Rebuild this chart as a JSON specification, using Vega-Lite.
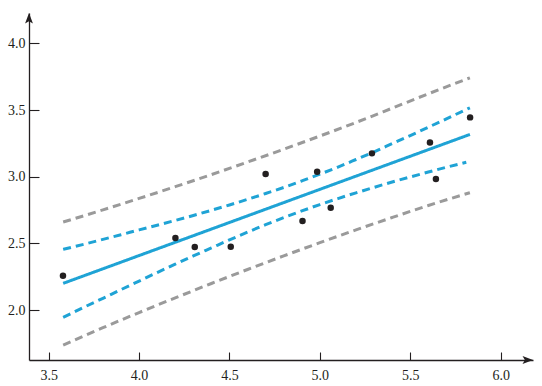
{
  "$schema": "https://vega.github.io/schema/vega-lite/v6.json",
  "width": 504,
  "height": 347,
  "autosize": "none",
  "padding": {"left": 29, "top": 13, "right": 9, "bottom": 26},
  "config": {
    "view": {"stroke": null},
    "font": "Liberation Serif",
    "axis": {
      "domainColor": "#231f20",
      "domainWidth": 1.3,
      "tickColor": "#231f20",
      "tickWidth": 1.1,
      "labelFont": "Liberation Serif",
      "labelFontSize": 14,
      "labelColor": "#231f20",
      "grid": false,
      "title": null
    }
  },
  "datasets": {
    "curves": [
      {"x": 3.58, "y": 2.200, "curve": "fit", "kind": "fit"},
      {"x": 5.83, "y": 3.317, "curve": "fit", "kind": "fit"},
      {"x": 3.58, "y": 2.455, "curve": "conf_up", "kind": "conf"},
      {"x": 3.7, "y": 2.495, "curve": "conf_up", "kind": "conf"},
      {"x": 3.8, "y": 2.530, "curve": "conf_up", "kind": "conf"},
      {"x": 3.9, "y": 2.565, "curve": "conf_up", "kind": "conf"},
      {"x": 4.0, "y": 2.601, "curve": "conf_up", "kind": "conf"},
      {"x": 4.1, "y": 2.636, "curve": "conf_up", "kind": "conf"},
      {"x": 4.2, "y": 2.672, "curve": "conf_up", "kind": "conf"},
      {"x": 4.3, "y": 2.709, "curve": "conf_up", "kind": "conf"},
      {"x": 4.4, "y": 2.748, "curve": "conf_up", "kind": "conf"},
      {"x": 4.5, "y": 2.788, "curve": "conf_up", "kind": "conf"},
      {"x": 4.6, "y": 2.830, "curve": "conf_up", "kind": "conf"},
      {"x": 4.7, "y": 2.874, "curve": "conf_up", "kind": "conf"},
      {"x": 4.8, "y": 2.919, "curve": "conf_up", "kind": "conf"},
      {"x": 4.9, "y": 2.968, "curve": "conf_up", "kind": "conf"},
      {"x": 5.0, "y": 3.019, "curve": "conf_up", "kind": "conf"},
      {"x": 5.1, "y": 3.072, "curve": "conf_up", "kind": "conf"},
      {"x": 5.2, "y": 3.129, "curve": "conf_up", "kind": "conf"},
      {"x": 5.3, "y": 3.187, "curve": "conf_up", "kind": "conf"},
      {"x": 5.4, "y": 3.248, "curve": "conf_up", "kind": "conf"},
      {"x": 5.5, "y": 3.309, "curve": "conf_up", "kind": "conf"},
      {"x": 5.6, "y": 3.371, "curve": "conf_up", "kind": "conf"},
      {"x": 5.7, "y": 3.434, "curve": "conf_up", "kind": "conf"},
      {"x": 5.83, "y": 3.517, "curve": "conf_up", "kind": "conf"},
      {"x": 3.58, "y": 1.945, "curve": "conf_lo", "kind": "conf"},
      {"x": 3.7, "y": 2.024, "curve": "conf_lo", "kind": "conf"},
      {"x": 3.8, "y": 2.088, "curve": "conf_lo", "kind": "conf"},
      {"x": 3.9, "y": 2.153, "curve": "conf_lo", "kind": "conf"},
      {"x": 4.0, "y": 2.217, "curve": "conf_lo", "kind": "conf"},
      {"x": 4.1, "y": 2.281, "curve": "conf_lo", "kind": "conf"},
      {"x": 4.2, "y": 2.344, "curve": "conf_lo", "kind": "conf"},
      {"x": 4.3, "y": 2.406, "curve": "conf_lo", "kind": "conf"},
      {"x": 4.4, "y": 2.466, "curve": "conf_lo", "kind": "conf"},
      {"x": 4.5, "y": 2.526, "curve": "conf_lo", "kind": "conf"},
      {"x": 4.6, "y": 2.584, "curve": "conf_lo", "kind": "conf"},
      {"x": 4.7, "y": 2.640, "curve": "conf_lo", "kind": "conf"},
      {"x": 4.8, "y": 2.693, "curve": "conf_lo", "kind": "conf"},
      {"x": 4.9, "y": 2.743, "curve": "conf_lo", "kind": "conf"},
      {"x": 5.0, "y": 2.791, "curve": "conf_lo", "kind": "conf"},
      {"x": 5.1, "y": 2.836, "curve": "conf_lo", "kind": "conf"},
      {"x": 5.2, "y": 2.879, "curve": "conf_lo", "kind": "conf"},
      {"x": 5.3, "y": 2.920, "curve": "conf_lo", "kind": "conf"},
      {"x": 5.4, "y": 2.960, "curve": "conf_lo", "kind": "conf"},
      {"x": 5.5, "y": 2.998, "curve": "conf_lo", "kind": "conf"},
      {"x": 5.6, "y": 3.035, "curve": "conf_lo", "kind": "conf"},
      {"x": 5.7, "y": 3.071, "curve": "conf_lo", "kind": "conf"},
      {"x": 5.81, "y": 3.108, "curve": "conf_lo", "kind": "conf"},
      {"x": 3.58, "y": 2.660, "curve": "pred_up", "kind": "pred"},
      {"x": 3.8, "y": 2.751, "curve": "pred_up", "kind": "pred"},
      {"x": 4.0, "y": 2.837, "curve": "pred_up", "kind": "pred"},
      {"x": 4.2, "y": 2.925, "curve": "pred_up", "kind": "pred"},
      {"x": 4.4, "y": 3.016, "curve": "pred_up", "kind": "pred"},
      {"x": 4.6, "y": 3.110, "curve": "pred_up", "kind": "pred"},
      {"x": 4.8, "y": 3.206, "curve": "pred_up", "kind": "pred"},
      {"x": 5.0, "y": 3.305, "curve": "pred_up", "kind": "pred"},
      {"x": 5.2, "y": 3.407, "curve": "pred_up", "kind": "pred"},
      {"x": 5.4, "y": 3.514, "curve": "pred_up", "kind": "pred"},
      {"x": 5.6, "y": 3.622, "curve": "pred_up", "kind": "pred"},
      {"x": 5.83, "y": 3.742, "curve": "pred_up", "kind": "pred"},
      {"x": 3.58, "y": 1.737, "curve": "pred_lo", "kind": "pred"},
      {"x": 3.8, "y": 1.867, "curve": "pred_lo", "kind": "pred"},
      {"x": 4.0, "y": 1.981, "curve": "pred_lo", "kind": "pred"},
      {"x": 4.2, "y": 2.091, "curve": "pred_lo", "kind": "pred"},
      {"x": 4.4, "y": 2.199, "curve": "pred_lo", "kind": "pred"},
      {"x": 4.6, "y": 2.304, "curve": "pred_lo", "kind": "pred"},
      {"x": 4.8, "y": 2.406, "curve": "pred_lo", "kind": "pred"},
      {"x": 5.0, "y": 2.505, "curve": "pred_lo", "kind": "pred"},
      {"x": 5.2, "y": 2.601, "curve": "pred_lo", "kind": "pred"},
      {"x": 5.4, "y": 2.694, "curve": "pred_lo", "kind": "pred"},
      {"x": 5.6, "y": 2.784, "curve": "pred_lo", "kind": "pred"},
      {"x": 5.83, "y": 2.880, "curve": "pred_lo", "kind": "pred"}
    ],
    "points": [
      {"x": 3.579, "y": 2.257},
      {"x": 4.201, "y": 2.540},
      {"x": 4.308, "y": 2.472},
      {"x": 4.507, "y": 2.474},
      {"x": 4.700, "y": 3.020},
      {"x": 4.904, "y": 2.667},
      {"x": 4.985, "y": 3.037},
      {"x": 5.060, "y": 2.767},
      {"x": 5.288, "y": 3.175},
      {"x": 5.609, "y": 3.257},
      {"x": 5.642, "y": 2.982},
      {"x": 5.831, "y": 3.445}
    ],
    "arrows": [
      {"x": 3.391, "y": 4.228, "dir": "up"},
      {"x": 6.179, "y": 1.625, "dir": "right"}
    ]
  },
  "layer": [
    {
      "data": {"name": "curves"},
      "mark": {"type": "line", "strokeWidth": 3, "strokeCap": "butt", "interpolate": "monotone"},
      "encoding": {
        "x": {
          "field": "x", "type": "quantitative",
          "scale": {"domain": [3.391, 6.179], "nice": false, "zero": false},
          "axis": {
            "values": [3.5, 4.0, 4.5, 5.0, 5.5, 6.0],
            "format": ".1f",
            "tickSize": -8,
            "labelPadding": 16
          }
        },
        "y": {
          "field": "y", "type": "quantitative",
          "scale": {"domain": [1.625, 4.228], "nice": false, "zero": false},
          "axis": {
            "values": [2.0, 2.5, 3.0, 3.5, 4.0],
            "format": ".1f",
            "tickSize": -10,
            "labelPadding": 14
          }
        },
        "detail": {"field": "curve"},
        "color": {
          "field": "kind", "type": "nominal",
          "scale": {"domain": ["fit", "conf", "pred"], "range": ["#1fa3d5", "#1fa3d5", "#9a9a9a"]},
          "legend": null
        },
        "strokeDash": {
          "field": "kind", "type": "nominal",
          "scale": {"domain": ["fit", "conf", "pred"], "range": [[1, 0], [8, 5], [8, 5]]},
          "legend": null
        }
      }
    },
    {
      "data": {"name": "points"},
      "mark": {"type": "circle", "size": 42, "color": "#231f20", "opacity": 1},
      "encoding": {
        "x": {"field": "x", "type": "quantitative"},
        "y": {"field": "y", "type": "quantitative"}
      }
    },
    {
      "data": {"name": "arrows"},
      "mark": {"type": "point", "filled": true, "color": "#231f20", "opacity": 1, "size": 110, "clip": false, "strokeWidth": 0},
      "encoding": {
        "x": {"field": "x", "type": "quantitative"},
        "y": {"field": "y", "type": "quantitative"},
        "shape": {
          "field": "dir", "type": "nominal",
          "scale": {"domain": ["up", "right"], "range": ["M0,0 L0.75,2 L0,1.55 L-0.75,2 Z", "M0,0 L-2,-0.75 L-1.55,0 L-2,0.75 Z"]},
          "legend": null
        }
      }
    }
  ]
}
